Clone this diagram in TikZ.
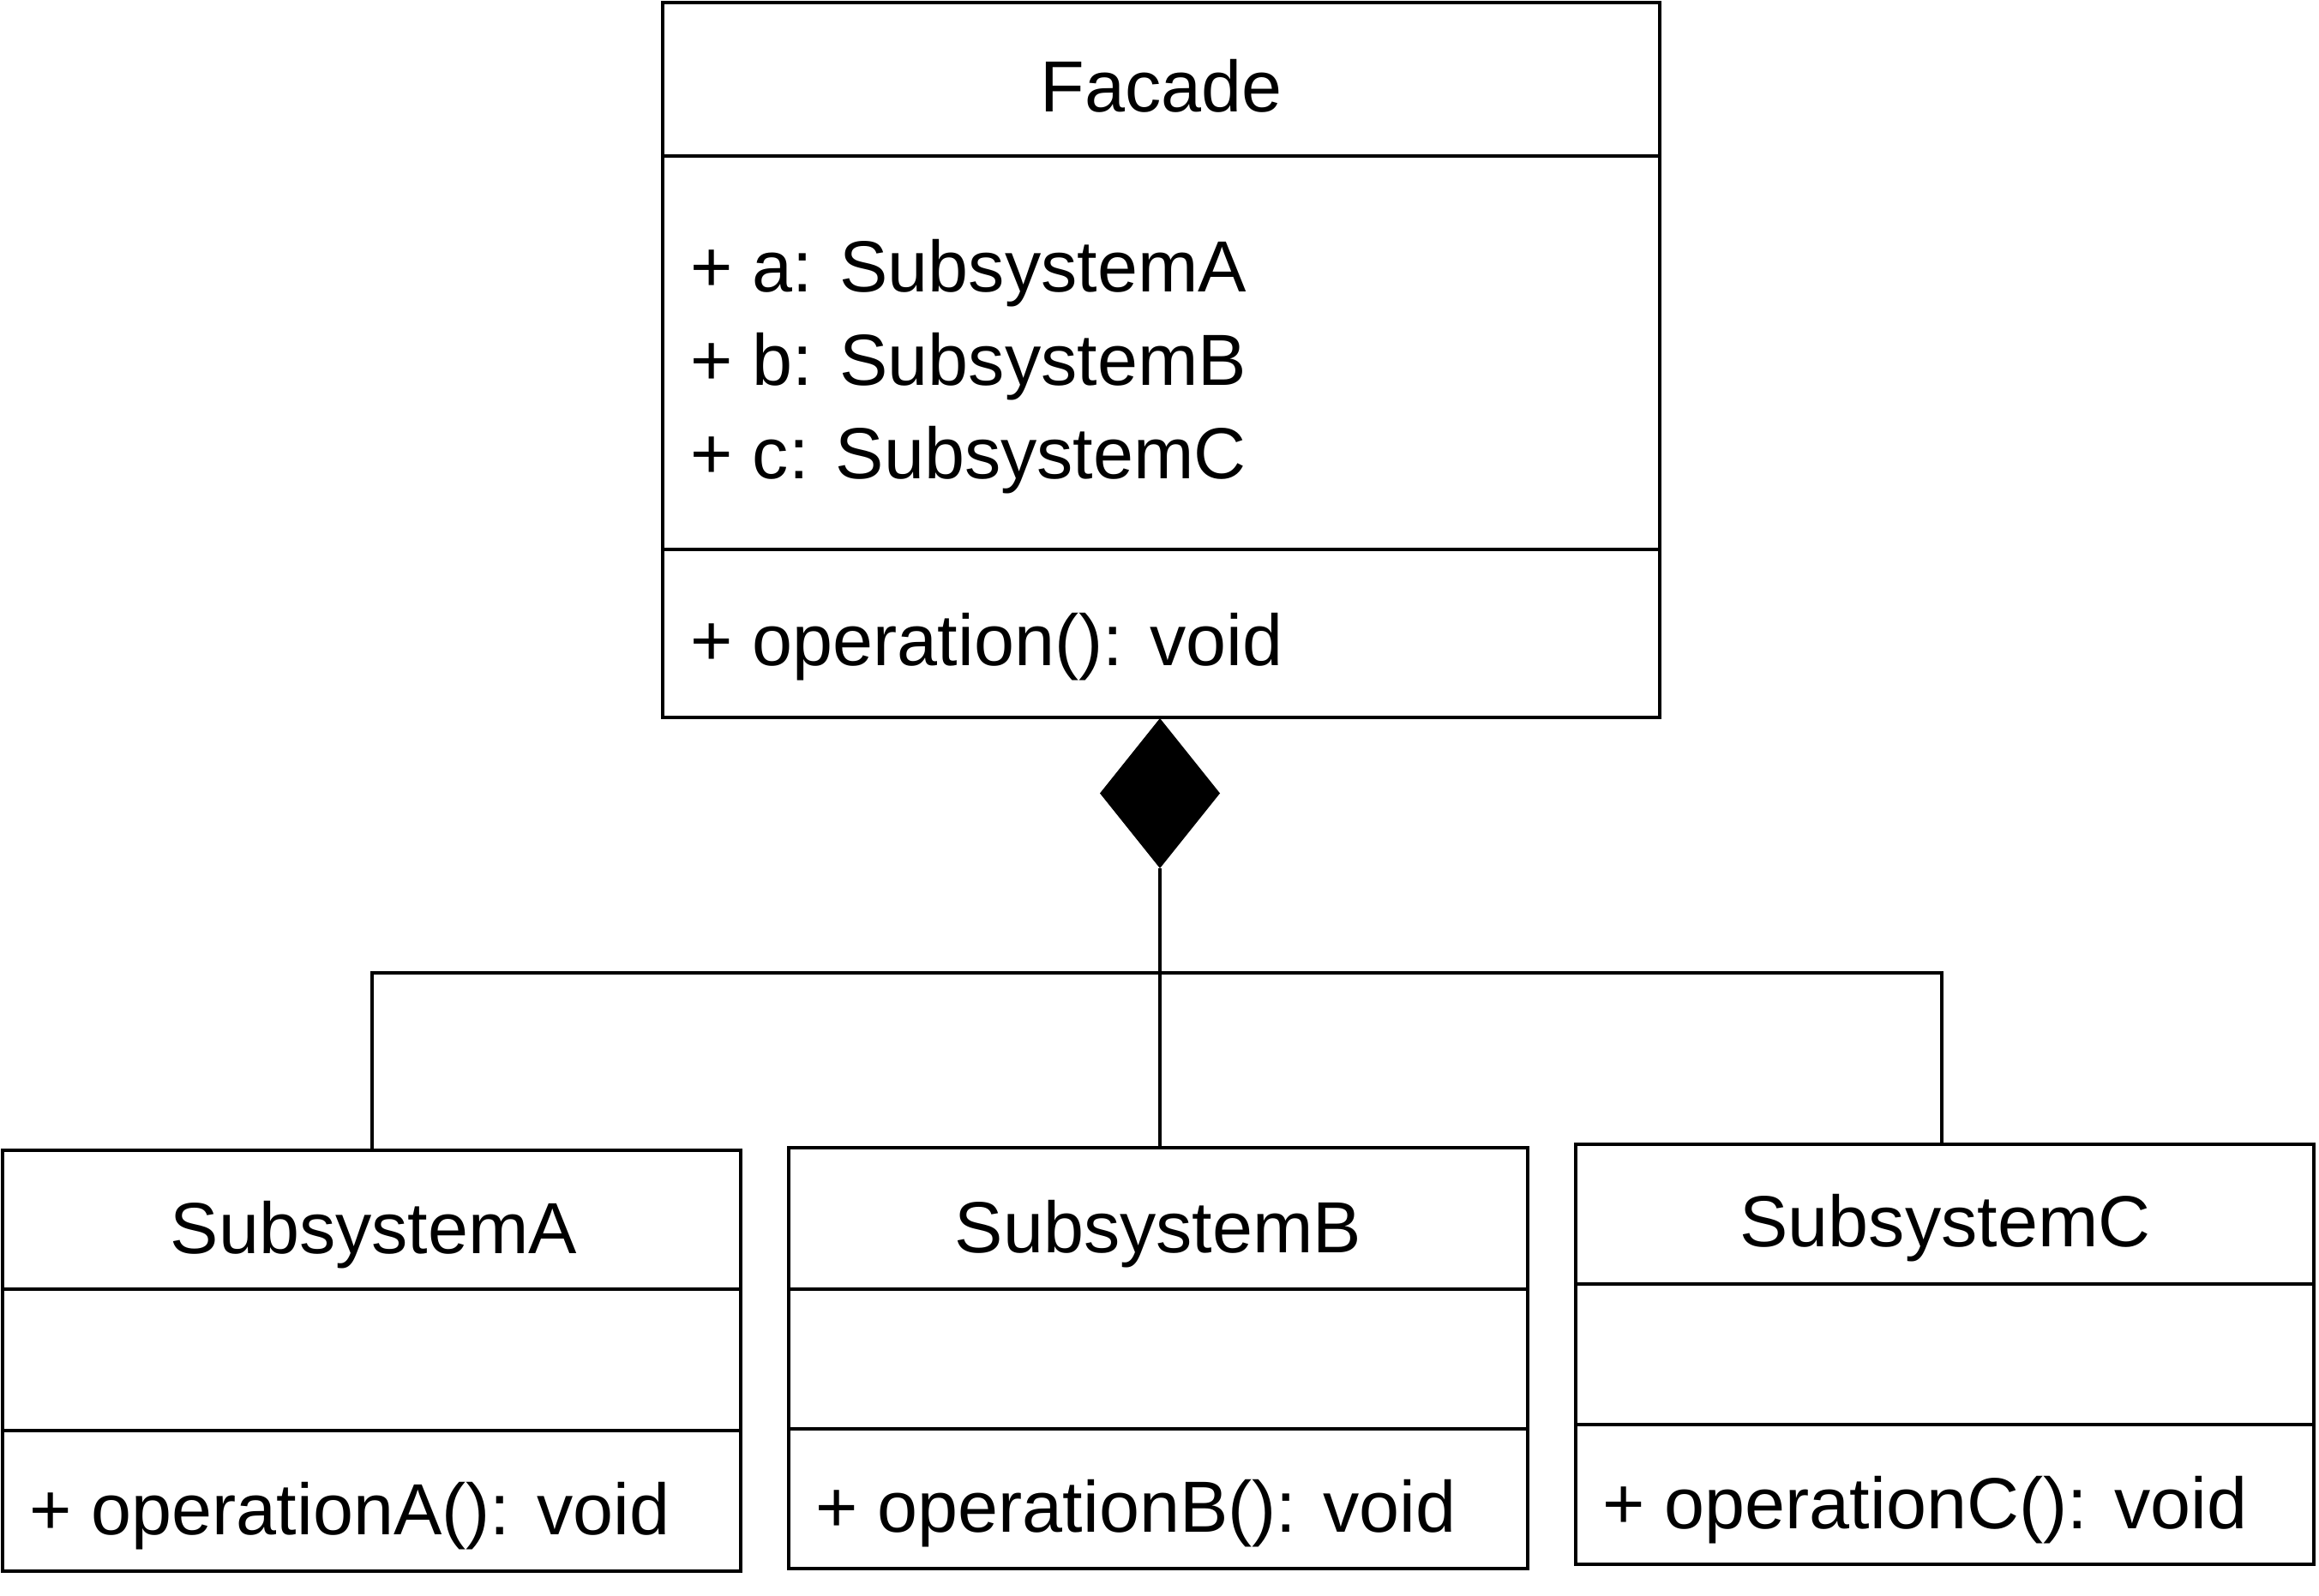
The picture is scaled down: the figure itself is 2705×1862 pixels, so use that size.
\documentclass[tikz,border=0pt]{standalone}
\usepackage{fontspec}
\setmainfont{Liberation Sans}
\usetikzlibrary{shapes.geometric}
\begin{document}
\begin{tikzpicture}[x=1pt,y=-1pt,
  every node/.style={inner sep=0pt,outer sep=0pt},
  classbox/.style={draw,rectangle,line width=4pt},
  lbl/.style={font=\fontsize{84.5}{100}\selectfont},
  conn/.style={line width=4pt},
  comp/.style={line width=4pt}]
\useasboundingbox (0,0) rectangle (2705,1862);
% boxes
\node[classbox,minimum width=1163pt,minimum height=834pt] (F) at (1354.5,420) {};
\node[classbox,minimum width=861pt,minimum height=491.5pt] (A) at (433.5,1587.25) {};
\node[classbox,minimum width=862pt,minimum height=490.6pt] (B) at (1351,1584.7) {};
\node[classbox,minimum width=861pt,minimum height=490.3pt] (C) at (2268.5,1579.85) {};
% compartments
\draw[comp] (F.west |- 0,182.5) -- (F.east |- 0,182.5);
\draw[comp] (F.west |- 0,641) -- (F.east |- 0,641);
\draw[comp] (A.west |- 0,1504) -- (A.east |- 0,1504);
\draw[comp] (A.west |- 0,1668.5) -- (A.east |- 0,1668.5);
\draw[comp] (B.west |- 0,1503.5) -- (B.east |- 0,1503.5);
\draw[comp] (B.west |- 0,1666.5) -- (B.east |- 0,1666.5);
\draw[comp] (C.west |- 0,1497.5) -- (C.east |- 0,1497.5);
\draw[comp] (C.west |- 0,1662) -- (C.east |- 0,1662);
% texts
\node[lbl,anchor=base] (tF) at (1354.5,131) {Facade};
\node[lbl,anchor=base west] (fa) at (805,340) {+ a: SubsystemA};
\node[lbl,anchor=base west] (fb) at (805,449) {+ b: SubsystemB};
\node[lbl,anchor=base west] (fc) at (805,558) {+ c: SubsystemC};
\node[lbl,anchor=base west] (fo) at (805,776) {+ operation(): void};
\node[lbl,anchor=base] (tA) at (436,1462) {SubsystemA};
\node[lbl,anchor=base west] (oA) at (34,1790) {+ operationA(): void};
\node[lbl,anchor=base] (tB) at (1351,1461) {SubsystemB};
\node[lbl,anchor=base west] (oB) at (951,1787) {+ operationB(): void};
\node[lbl,anchor=base] (tC) at (2269,1454) {SubsystemC};
\node[lbl,anchor=base west] (oC) at (1869,1783) {+ operationC(): void};
% composition
\node[diamond,fill=black,minimum width=140pt,minimum height=175pt] (dia) at (1353,925.5) {};
\coordinate (j) at (1353,1135);
\draw[conn] (dia.south) -- (B.north -| dia.south);
\draw[conn] (j) -| (A.north);
\draw[conn] (j) -| ([xshift=-3.5pt]C.north);
\end{tikzpicture}
\end{document}
